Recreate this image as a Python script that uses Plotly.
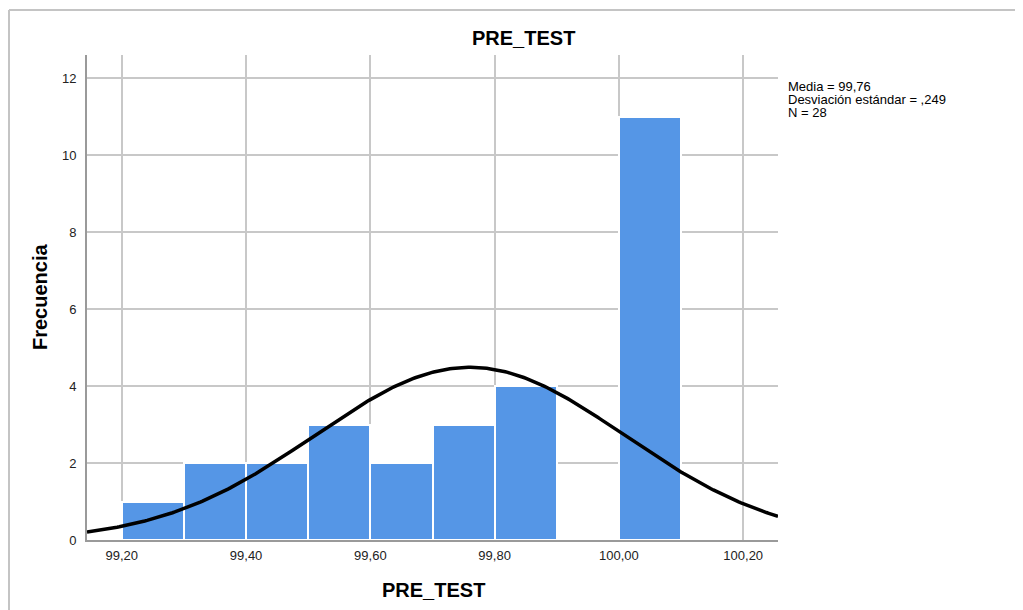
import numpy as np
import plotly.graph_objects as go

# Data
bin_starts = [99.2, 99.3, 99.4, 99.5, 99.6, 99.7, 99.8, 99.9, 100.0]
counts = [1, 2, 2, 3, 2, 3, 4, 0, 11]
bin_width = 0.1
mean = 99.76
sd = 0.249
n = 28
x_tickvals = [99.2, 99.4, 99.6, 99.8, 100.0, 100.2]
x_ticktext = ["99,20", "99,40", "99,60", "99,80", "100,00", "100,20"]
y_tickvals = [0, 2, 4, 6, 8, 10, 12]
stats_lines = ["Media = 99,76", "Desviación estándar = ,249", "N = 28"]

OFF = 8  # page body margin
W, H = 1023 - OFF, 610 - OFF
L, R, T, B = 87, 778, 55, 540  # target pixel positions in window
FONT = "Liberation Sans, Arial, sans-serif"

centers = [s + bin_width / 2 for s in bin_starts]

fig = go.Figure()
fig.add_trace(go.Bar(
    x=centers, y=counts, width=[bin_width] * len(counts),
    marker=dict(color="#5596e6", line=dict(color="white", width=2)),
    hoverinfo="skip", showlegend=False,
))

xs = np.linspace(99.144, 100.256, 300)
ys = n * bin_width / (sd * np.sqrt(2 * np.pi)) * np.exp(-0.5 * ((xs - mean) / sd) ** 2)
fig.add_trace(go.Scatter(x=xs, y=ys, mode="lines",
                         line=dict(color="black", width=3.5),
                         hoverinfo="skip", showlegend=False))

def px_x(p):
    return (p - L) / (R - L)

def px_y(p):
    return (B - p) / (B - T)

annotations = [
    dict(text="<b>PRE_TEST</b>", x=px_x(523), y=px_y(38), xref="paper", yref="paper",
         showarrow=False, font=dict(size=20, color="black", family=FONT),
         xanchor="center", yanchor="middle"),
    dict(text="<b>PRE_TEST</b>", x=px_x(433), y=px_y(590), xref="paper", yref="paper",
         showarrow=False, font=dict(size=20, color="black", family=FONT),
         xanchor="center", yanchor="middle"),
    dict(text="<b>Frecuencia</b>", x=px_x(40), y=px_y(297), xref="paper", yref="paper",
         showarrow=False, textangle=-90, font=dict(size=20, color="black", family=FONT),
         xanchor="center", yanchor="middle"),
]
for i, line in enumerate(stats_lines):
    annotations.append(dict(text=line, x=px_x(786), y=px_y(86 + 13 * i),
                            xref="paper", yref="paper", showarrow=False,
                            font=dict(size=13, color="black", family=FONT),
                            xanchor="left", yanchor="middle"))

shapes = [
    dict(type="line", xref="paper", yref="paper", x0=px_x(9), x1=px_x(1040),
         y0=px_y(10), y1=px_y(10), line=dict(color="#c4c4c4", width=2)),
    dict(type="line", xref="paper", yref="paper", x0=px_x(9), x1=px_x(9),
         y0=px_y(10), y1=px_y(640), line=dict(color="#c4c4c4", width=2)),
]

fig.update_layout(
    width=W, height=H,
    margin=dict(l=L - OFF, r=1023 - R, t=T - OFF, b=610 - B),
    paper_bgcolor="white", plot_bgcolor="white",
    bargap=0,
    font=dict(family=FONT, size=13, color="black"),
    annotations=annotations, shapes=shapes,
    xaxis=dict(range=[99.144, 100.256], tickvals=x_tickvals, ticktext=x_ticktext,
               showgrid=True, gridcolor="#c8c8c8", gridwidth=1.5,
               showline=True, linecolor="#9a9a9a", linewidth=2,
               zeroline=False, ticks="", ticklabelstandoff=2,
               tickfont=dict(size=13, family=FONT, color="#222")),
    yaxis=dict(range=[0, 12.6], tickvals=y_tickvals,
               showgrid=True, gridcolor="#c8c8c8", gridwidth=1.5,
               showline=True, linecolor="#9a9a9a", linewidth=2,
               zeroline=False, ticks="", ticklabelstandoff=6,
               tickfont=dict(size=13, family=FONT, color="#222")),
)

fig.write_html("out.html")
